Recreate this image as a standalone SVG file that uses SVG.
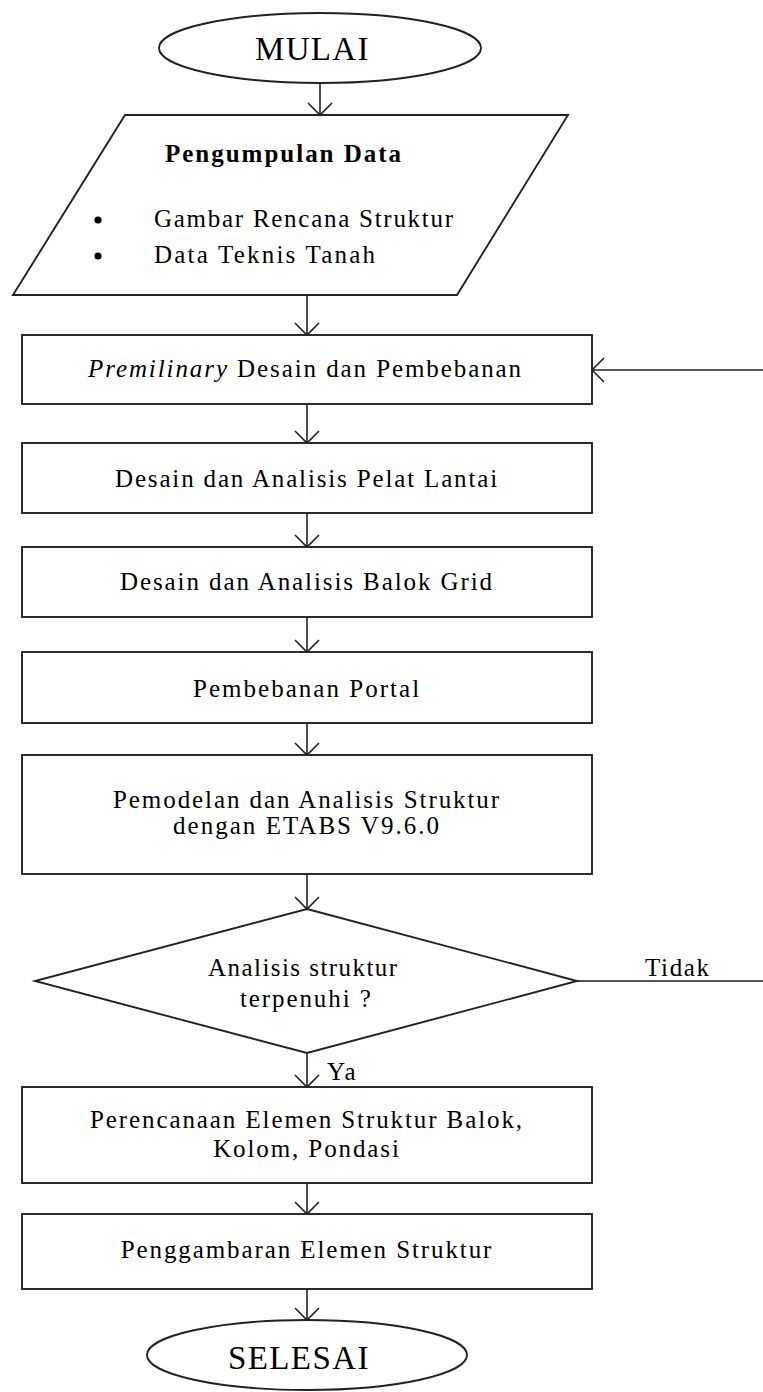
<svg xmlns="http://www.w3.org/2000/svg" width="763" height="1392" viewBox="0 0 763 1392">
<style>
.shape{fill:#fff;stroke:#222;stroke-width:1.9}
.conn{fill:none;stroke:#222;stroke-width:1.6}
text{font-family:"Liberation Serif","Times New Roman",serif;fill:#000;font-size:25px;letter-spacing:1.9px}
.mid{text-anchor:middle}
.big{font-size:33px;letter-spacing:1.6px}
</style>
<defs>
<marker id="arr" markerUnits="userSpaceOnUse" markerWidth="16" markerHeight="28" viewBox="0 0 16 28" refX="14" refY="14" orient="auto">
<path d="M2,2 L14,14 L2,26" fill="none" stroke="#222" stroke-width="1.6"/>
</marker>
</defs>
<rect width="763" height="1392" fill="#fff"/>
<g id="connectors">
<line class="conn" x1="320" y1="83" x2="320" y2="115" marker-end="url(#arr)"/>
<line class="conn" x1="307" y1="295" x2="307" y2="335" marker-end="url(#arr)"/>
<line class="conn" x1="763" y1="370" x2="592" y2="370" marker-end="url(#arr)"/>
<line class="conn" x1="307" y1="404" x2="307" y2="443" marker-end="url(#arr)"/>
<line class="conn" x1="307" y1="513" x2="307" y2="547" marker-end="url(#arr)"/>
<line class="conn" x1="307" y1="617" x2="307" y2="652" marker-end="url(#arr)"/>
<line class="conn" x1="307" y1="723" x2="307" y2="755" marker-end="url(#arr)"/>
<line class="conn" x1="307" y1="874" x2="307" y2="909" marker-end="url(#arr)"/>
<line class="conn" x1="577" y1="981" x2="763" y2="981"/>
<text x="645" y="976" textLength="66" lengthAdjust="spacing">Tidak</text>
<line class="conn" x1="307" y1="1053" x2="307" y2="1087" marker-end="url(#arr)"/>
<text x="327" y="1080">Ya</text>
<line class="conn" x1="307" y1="1183" x2="307" y2="1214" marker-end="url(#arr)"/>
<line class="conn" x1="307" y1="1289" x2="307" y2="1320" marker-end="url(#arr)"/>
</g>
<g id="mulai">
<ellipse class="shape" cx="320" cy="48" rx="161" ry="35"/>
<text x="255" y="60" class="big" textLength="115" lengthAdjust="spacing">MULAI</text>
</g>
<g id="pengumpulan">
<polygon class="shape" points="125,115 568,115 457,295 13,295"/>
<text x="165" y="162" font-weight="bold" textLength="238" lengthAdjust="spacing">Pengumpulan Data</text>
<circle cx="98" cy="220" r="3.6" fill="#000"/>
<circle cx="98" cy="256" r="3.6" fill="#000"/>
<text x="154" y="227" textLength="301" lengthAdjust="spacing">Gambar Rencana Struktur</text>
<text x="154" y="263" textLength="223" lengthAdjust="spacing">Data Teknis Tanah</text>
</g>
<g id="premilinary">
<rect class="shape" x="22" y="335" width="570" height="69"/>
<text x="88" y="377" textLength="435" lengthAdjust="spacing"><tspan font-style="italic">Premilinary</tspan> Desain dan Pembebanan</text>
</g>
<g id="pelat">
<rect class="shape" x="22" y="443" width="570" height="70"/>
<text x="115" y="487" textLength="384" lengthAdjust="spacing">Desain dan Analisis Pelat Lantai</text>
</g>
<g id="balok">
<rect class="shape" x="22" y="547" width="570" height="70"/>
<text x="120" y="590" textLength="374" lengthAdjust="spacing">Desain dan Analisis Balok Grid</text>
</g>
<g id="portal">
<rect class="shape" x="22" y="652" width="570" height="71"/>
<text x="193" y="697" textLength="228" lengthAdjust="spacing">Pembebanan Portal</text>
</g>
<g id="pemodelan">
<rect class="shape" x="22" y="755" width="570" height="119"/>
<text x="113" y="808" textLength="388" lengthAdjust="spacing">Pemodelan dan Analisis Struktur</text>
<text x="173" y="834" textLength="268" lengthAdjust="spacing">dengan ETABS V9.6.0</text>
</g>
<g id="keputusan">
<polygon class="shape" points="307,909 577,981 307,1053 35,981"/>
<text x="208" y="976" textLength="191" lengthAdjust="spacing">Analisis struktur</text>
<text x="240" y="1007">terpenuhi ?</text>
</g>
<g id="perencanaan">
<rect class="shape" x="22" y="1087" width="570" height="96"/>
<text class="mid" x="307" y="1128">Perencanaan Elemen Struktur Balok,</text>
<text class="mid" x="307" y="1157">Kolom, Pondasi</text>
</g>
<g id="penggambaran">
<rect class="shape" x="22" y="1214" width="570" height="75"/>
<text class="mid" x="307" y="1258">Penggambaran Elemen Struktur</text>
</g>
<g id="selesai">
<ellipse class="shape" cx="307" cy="1355" rx="160" ry="35"/>
<text x="228" y="1369" class="big" textLength="142" lengthAdjust="spacing">SELESAI</text>
</g>
</svg>
